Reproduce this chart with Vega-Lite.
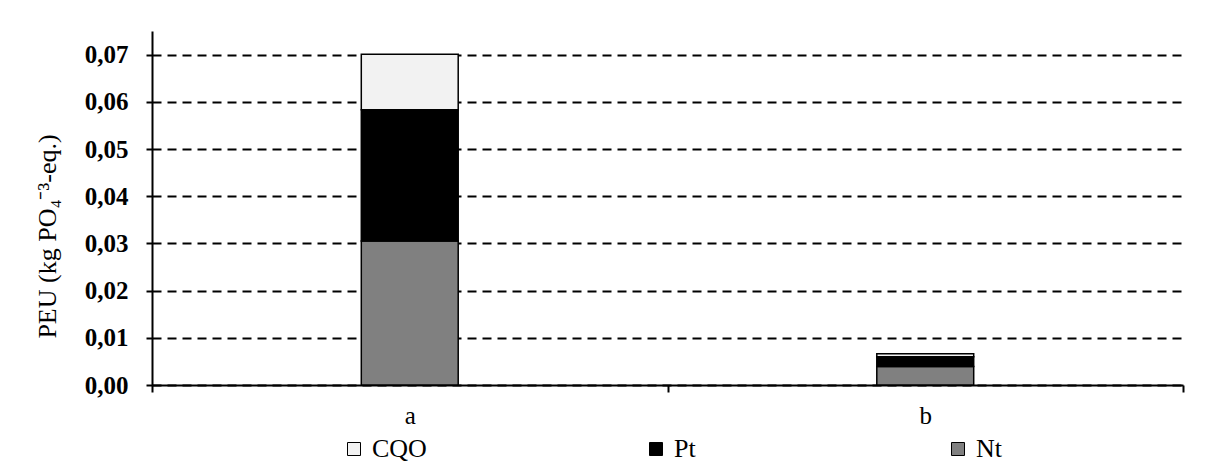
{
  "$schema": "https://vega.github.io/schema/vega-lite/v6.json",
  "autosize": "none",
  "width": 1031,
  "height": 354,
  "padding": {"left": 152, "top": 31, "right": 22, "bottom": 78},
  "background": "white",
  "data": {
    "values": [
      {"scenario": "a", "component": "Nt", "value": 0.0305},
      {"scenario": "a", "component": "Pt", "value": 0.0278},
      {"scenario": "a", "component": "CQO", "value": 0.0118},
      {"scenario": "b", "component": "Nt", "value": 0.0039},
      {"scenario": "b", "component": "Pt", "value": 0.0021},
      {"scenario": "b", "component": "CQO", "value": 0.0006}
    ]
  },
  "mark": {"type": "bar", "width": {"band": 0.188}, "stroke": "black", "strokeWidth": 1.5},
  "encoding": {
    "x": {
      "field": "scenario",
      "type": "nominal",
      "scale": {"paddingInner": 0, "paddingOuter": 0},
      "axis": {
        "title": null,
        "labelAngle": 0,
        "labelFont": "Liberation Serif",
        "labelFontSize": 25,
        "labelColor": "black",
        "labelPadding": 11,
        "tickBand": "extent",
        "tickSize": 7,
        "tickColor": "black",
        "tickWidth": 2,
        "domainColor": "black",
        "domainWidth": 2,
        "grid": false
      }
    },
    "y": {
      "field": "value",
      "type": "quantitative",
      "stack": "zero",
      "scale": {"domain": [0, 0.075], "nice": false},
      "axis": {
        "title": "PEU (kg PO₄⁻³-eq.)",
        "titleFont": "Liberation Serif",
        "titleFontSize": 26,
        "titleFontWeight": "normal",
        "titleColor": "black",
        "titlePadding": 24,
        "titleY": 205,
        "values": [0, 0.01, 0.02, 0.03, 0.04, 0.05, 0.06, 0.07],
        "labelExpr": "replace(format(datum.value, '.2f'), '.', ',')",
        "labelFont": "Liberation Serif",
        "labelFontSize": 25,
        "labelFontWeight": "bold",
        "labelColor": "black",
        "labelPadding": 18,
        "tickSize": 6,
        "tickColor": "black",
        "tickWidth": 2,
        "domainColor": "black",
        "domainWidth": 2,
        "grid": true,
        "gridColor": "black",
        "gridWidth": 2,
        "gridDash": [9, 6]
      }
    },
    "color": {
      "field": "component",
      "type": "nominal",
      "scale": {"domain": ["CQO", "Pt", "Nt"], "range": ["#f2f2f2", "#000000", "#808080"]},
      "legend": {
        "title": null,
        "orient": "none",
        "direction": "horizontal",
        "legendX": 189,
        "legendY": 405,
        "columns": 3,
        "gridAlign": "all",
        "columnPadding": 216,
        "symbolType": "square",
        "symbolSize": 169,
        "symbolStrokeColor": "black",
        "symbolStrokeWidth": 1,
        "labelFont": "Liberation Serif",
        "labelFontSize": 26,
        "labelColor": "black",
        "labelOffset": 5
      }
    },
    "order": {"field": "value", "sort": "descending"}
  },
  "config": {"view": {"stroke": null}}
}
